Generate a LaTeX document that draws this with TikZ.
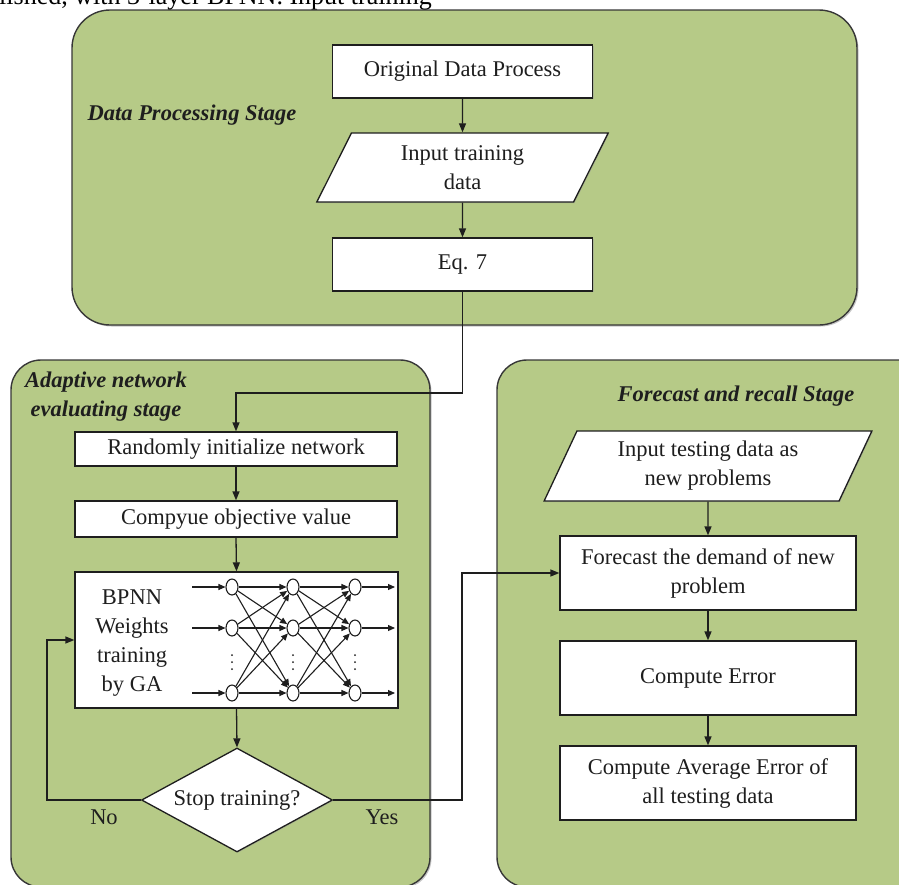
\documentclass[tikz,border=0pt]{standalone}
\usepackage{fontspec}
\setmainfont{Liberation Serif}
\usetikzlibrary{shapes.geometric,arrows.meta,shadows,calc}
\definecolor{panelgreen}{RGB}{182,202,135}
\definecolor{edgegray}{RGB}{55,55,55}
\definecolor{inkgray}{RGB}{30,30,30}
\begin{document}
\begin{tikzpicture}[x=1pt,y=-1pt,
  font=\fontsize{22.5}{29}\selectfont,
  panel/.style={draw=edgegray,line width=1.4pt,fill=panelgreen,
    drop shadow={shadow xshift=1.5pt,shadow yshift=-1.5pt,fill=black!45,opacity=.5}},
  box/.style={draw=inkgray,line width=1.3pt,fill=white,align=center,inner sep=2pt,text=inkgray,
    drop shadow={shadow xshift=1pt,shadow yshift=-1pt,fill=black!40,opacity=.45}},
  para/.style={box,trapezium,trapezium stretches=true},
  arr/.style={draw=inkgray,line width=1.3pt,-{Triangle[length=9pt,width=7pt]}},
  narr/.style={draw=inkgray,line width=1.1pt,-{Triangle[length=7pt,width=6pt]}},
  stagelbl/.style={font=\fontsize{22.5}{29}\selectfont\bfseries\itshape,align=center,inner sep=0pt,text=inkgray},
  plain/.style={align=center,inner sep=0pt,text=inkgray},
  neuron/.style={ellipse,draw=inkgray,fill=white,line width=1.1pt,minimum width=12pt,minimum height=16pt,inner sep=0pt},
  dot/.style={circle,fill=inkgray,inner sep=0pt,minimum size=2pt}
]
\useasboundingbox (0,0) rectangle (899,884);
\clip (0,0) rectangle (899,884);

% panels
\draw[panel,rounded corners=38pt] (72,10) rectangle (857,325);
\draw[panel,rounded corners=30pt] (11,360) rectangle (430,887);
\draw[panel,rounded corners=30pt] (497,360) rectangle (935,887);

% top cut text
\node[anchor=base west,inner sep=0pt,font=\fontsize{26}{30}\selectfont] (toptext) at (-1,4.5) {lished, with 3-layer BPNN. Input training};

% data processing stage
\node[stagelbl] (lblA) at (192,115) {Data Processing Stage};
\node[box,minimum width=260pt,minimum height=53pt] (orig) at (462.5,71.5) {Original Data Process};
\node[para,trapezium left angle=66.5,trapezium right angle=113.5,minimum width=292pt,minimum height=69pt,inner sep=0pt] (intrain) at (462.5,167.5) {Input training\\data};
\node[box,minimum width=260pt,minimum height=53pt] (eq7) at (462.5,264.5) {Eq. 7};
\draw[arr] (orig.south) -- (intrain.north);
\draw[arr] (intrain.south) -- (eq7.north);

% adaptive network evaluating stage
\node[stagelbl] (lblB) at (106,397) {Adaptive network\\evaluating stage};
\node[box,minimum width=322pt,minimum height=34pt] (rand) at (236,449) {Randomly initialize network};
\node[box,minimum width=322pt,minimum height=36pt] (comp) at (236,519) {Compyue objective value};
\node[box,minimum width=323pt,minimum height=136pt] (bpnn) at (236.5,640) {};
\node[plain] (bpnntxt) at (132,643) {BPNN\\Weights\\training\\by GA};
\node[box,diamond,aspect=1.84,minimum width=191pt,minimum height=104pt,inner sep=0pt] (stop) at (237,800) {Stop training?};
\node[plain] (nolbl) at (104,817) {No};
\node[plain] (yeslbl) at (382,817) {Yes};

\coordinate (j1) at (236,393);
\draw[arr] (eq7.south) |- (j1) -- (rand.north);
\draw[arr] (rand.south) -- (comp.north);
\draw[arr] (comp.south) -- (bpnn.north);
\draw[arr] (bpnn.south) -- (stop.north);
\coordinate (lp) at (47,640);
\draw[arr] (stop.west) -| (lp) -- (bpnn.west);

% network inside BPNN box
\foreach \c/\x in {1/232,2/293,3/355}{
  \foreach \r/\y in {1/587,2/628,3/693}{
    \node[neuron] (n\c\r) at (\x,\y) {};
  }
  \foreach \k/\y in {1/655,2/662,3/669}{
    \node[dot] (d\c\k) at (\x,\y) {};
  }
}
\foreach \r/\y in {1/587,2/628,3/693}{
  \coordinate (in\r) at (192,\y);
  \coordinate (out\r) at (395,\y);
  \draw[narr] (in\r) -- (n1\r);
  \draw[narr] (n3\r) -- (out\r);
}
\foreach \i in {1,2,3}{
  \foreach \j in {1,2,3}{
    \draw[narr] (n1\i) -- (n2\j);
    \draw[narr] (n2\i) -- (n3\j);
  }
}

% forecast and recall stage
\node[stagelbl] (lblC) at (736,396) {Forecast and recall Stage};
\node[para,trapezium left angle=65.4,trapezium right angle=114.6,minimum width=328pt,minimum height=70pt,inner sep=0pt] (intest) at (708,466) {Input testing data as\\new problems};
\node[box,minimum width=296pt,minimum height=74pt] (fore) at (708,573) {Forecast the demand of new\\problem};
\node[box,minimum width=296pt,minimum height=74pt] (cerr) at (708,678) {Compute Error};
\node[box,minimum width=296pt,minimum height=74pt] (cavg) at (708,783) {Compute Average Error of\\all testing data};
\draw[arr] (intest.south) -- (fore.north);
\draw[arr] (fore.south) -- (cerr.north);
\draw[arr] (cerr.south) -- (cavg.north);

\coordinate (yp) at (462,573);
\draw[arr] (stop.east) -| (yp) -- (fore.west);
\end{tikzpicture}
\end{document}
